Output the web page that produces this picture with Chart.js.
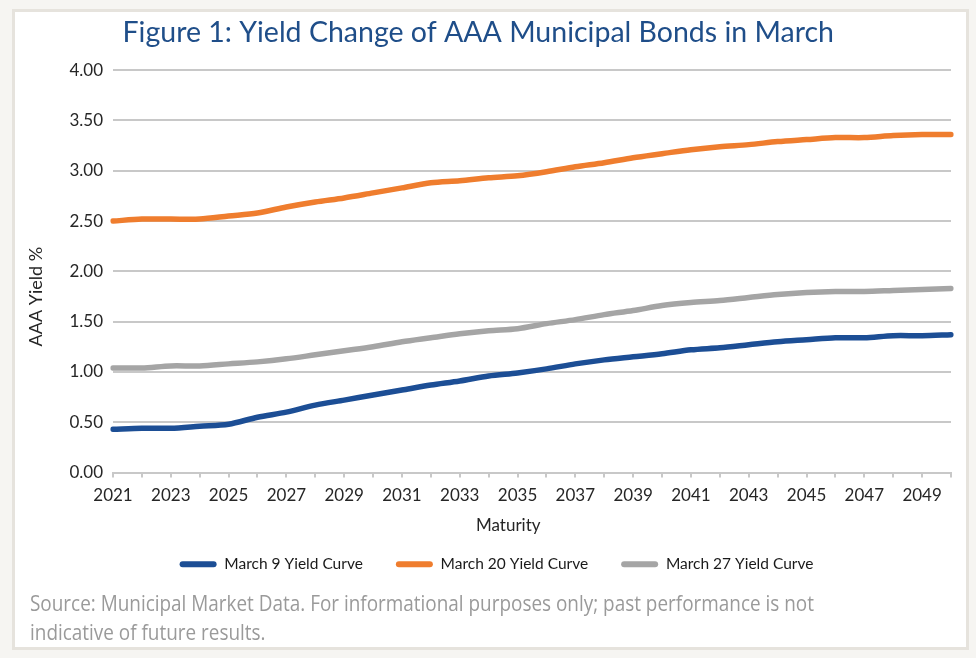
<!DOCTYPE html>
<html><head><meta charset="utf-8">
<script src="https://cdn.jsdelivr.net/npm/chart.js@4"></script>
<style>
html,body{margin:0;padding:0;background:#f6f5f2;width:976px;height:658px;overflow:hidden}
#card{position:absolute;left:12px;top:9px;width:951px;height:635px;background:#fff;border:3px solid #e6e3dd;}
#wrap{position:absolute;left:0;top:0;width:976px;height:590px}
#src{position:absolute;left:30px;top:588px;font-family:"Open Sans",sans-serif;font-size:22px;color:#9a9a9a;line-height:29px;white-space:nowrap;transform:scaleX(0.86);transform-origin:0 0}
</style></head>
<body>
<div id="card"></div>
<div id="wrap"><canvas id="c"></canvas></div>
<div id="src">Source: Municipal Market Data. For informational purposes only; past performance is not<br>indicative of future results.</div>
<script>
const years = ['2021','2022','2023','2024','2025','2026','2027','2028','2029','2030',
  '2031','2032','2033','2034','2035','2036','2037','2038','2039','2040',
  '2041','2042','2043','2044','2045','2046','2047','2048','2049','2050'];
const march9 = [0.43,0.44,0.44,0.46,0.48,0.55,0.60,0.67,0.72,0.77,
  0.82,0.87,0.91,0.96,0.99,1.03,1.08,1.12,1.15,1.18,
  1.22,1.24,1.27,1.30,1.32,1.34,1.34,1.36,1.36,1.37];
const march20 = [2.50,2.52,2.52,2.52,2.55,2.58,2.64,2.69,2.73,2.78,
  2.83,2.88,2.90,2.93,2.95,2.99,3.04,3.08,3.13,3.17,
  3.21,3.24,3.26,3.29,3.31,3.33,3.33,3.35,3.36,3.36];
const march27 = [1.04,1.04,1.06,1.06,1.08,1.10,1.13,1.17,1.21,1.25,
  1.30,1.34,1.38,1.41,1.43,1.48,1.52,1.57,1.61,1.66,
  1.69,1.71,1.74,1.77,1.79,1.80,1.80,1.81,1.82,1.83];
const seriesNames = ['March 9 Yield Curve','March 20 Yield Curve','March 27 Yield Curve'];
const seriesColors = ['#1c4e95','#ef7d2e','#a5a5a5'];
const yTicks = [0,0.5,1,1.5,2,2.5,3,3.5,4];

const txt = '#262626';
const mk = (i, data) => ({
  label: seriesNames[i], data, borderColor: seriesColors[i], backgroundColor: seriesColors[i],
  borderWidth: 5.5, pointRadius: 0, tension: 0.3, borderCapStyle: 'round', borderJoinStyle: 'round'
});

new Chart(document.getElementById('c'), {
  type: 'line',
  data: { labels: years, datasets: [mk(0, march9), mk(1, march20), mk(2, march27)] },
  options: {
    responsive: true, maintainAspectRatio: false, animation: false,
    layout: { padding: { left: 42, right: 25, top: 16, bottom: 8 } },
    plugins: {
      title: { display: true, text: 'Figure 1: Yield Change of AAA Municipal Bonds in March' + '\u00a0'.repeat(5),
        color: '#1f4e89', font: { family: 'Lato', size: 28.5, weight: 'normal' }, padding: { top: 0, bottom: 20 } },
      legend: { position: 'bottom',
        labels: { boxWidth: 37, boxHeight: 6, padding: 33, color: '#1a1a1a',
          font: { family: 'Lato', size: 15.5 }, useBorderRadius: true, borderRadius: 3,
          generateLabels(chart) {
            const items = Chart.defaults.plugins.legend.labels.generateLabels(chart);
            items.forEach(it => { it.lineWidth = 0; it.fillStyle = seriesColors[it.datasetIndex]; });
            return items;
          } } },
      tooltip: { enabled: false }
    },
    scales: {
      x: {
        grid: { drawOnChartArea: false, color: '#c8c8c8', lineWidth: 2, tickLength: 5 },
        border: { color: '#c8c8c8', width: 2 },
        ticks: { autoSkip: false, maxRotation: 0, padding: 8, color: txt, font: { family: 'Lato', size: 17 },
          callback: (v, i) => (i % 2 === 0 ? years[i] : '') },
        title: { display: true, text: 'Maturity' + '\u00a0'.repeat(11), color: txt, font: { family: 'Lato', size: 17 }, padding: { top: 0, bottom: -12 } },
        afterFit: s => { s.height = 51; }
      },
      y: {
        min: 0, max: 4,
        afterBuildTicks: s => { s.ticks = yTicks.map(v => ({ value: v })); },
        ticks: { padding: 10, color: txt, font: { family: 'Lato', size: 17 }, callback: v => Number(v).toFixed(2) },
        grid: { color: '#c8c8c8', lineWidth: 2, drawTicks: false },
        border: { display: false },
        title: { display: true, text: 'AAA Yield %' + '\u00a0'.repeat(11), color: txt, font: { family: 'Lato', size: 18 }, padding: { top: -17, bottom: 0 } },
        afterFit: s => { s.width = 71; }
      }
    }
  }
});
</script>
</body></html>
